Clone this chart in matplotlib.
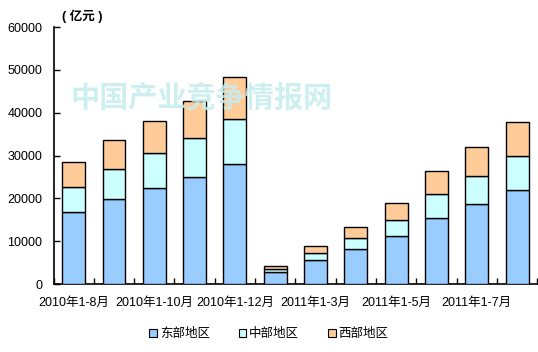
import matplotlib
matplotlib.use("Agg")
import matplotlib.pyplot as plt
import numpy as np

plt.rcParams['font.family'] = ['Liberation Sans', 'Noto Sans CJK SC', 'DejaVu Sans']

categories = ['2010年1-8月', '2010年1-9月', '2010年1-10月', '2010年1-11月', '2010年1-12月',
              '2011年1-2月', '2011年1-3月', '2011年1-4月', '2011年1-5月', '2011年1-6月',
              '2011年1-7月', '2011年1-8月']
east = [16740, 19780, 22340, 24910, 27950, 2800, 5530, 8100, 11130, 15340, 18610, 21880]
middle = [5840, 7000, 8170, 9110, 10500, 630, 1640, 2570, 3740, 5600, 6540, 7940]
west = [5820, 6770, 7480, 8640, 9810, 700, 1630, 2570, 3970, 5370, 6770, 7940]
series_names = ['东部地区', '中部地区', '西部地区']
colors = ['#99ccff', '#ccffff', '#ffcc99']

fig = plt.figure(figsize=(5.38, 3.52), dpi=100)
ax = fig.add_axes([0.0995, 0.193, 0.899, 0.730])

x = np.arange(len(categories))
bottom = np.zeros(len(categories))
for vals, name, c in zip([east, middle, west], series_names, colors):
    ax.bar(x, vals, width=0.57, bottom=bottom, color=c, edgecolor='black',
           linewidth=1.0, label=name, zorder=3)
    bottom += np.array(vals)

ax.set_xlim(-0.5, len(categories) - 0.5)
ax.set_ylim(0, 60000)
ax.set_yticks(np.arange(0, 60001, 10000))
ax.tick_params(axis='y', direction='in', length=4, width=1, labelsize=9, pad=8)

# labels under every other bar, tick marks between bars
ax.set_xticks(x[::2])
ax.set_xticklabels(categories[::2], fontsize=9)
ax.set_xticks(np.arange(-0.5, len(categories)), minor=True)
ax.tick_params(axis='x', which='major', length=0, pad=9)
ax.tick_params(axis='x', which='minor', direction='in', length=4, width=1)

for s in ['top', 'right']:
    ax.spines[s].set_visible(False)
for s in ['left', 'bottom']:
    ax.spines[s].set_linewidth(1.2)

fig.text(0.115, 0.955, '( 亿元 )', fontsize=9, ha='left', va='center', fontweight='bold')

# watermark
fig.text(0.375, 0.724, '中国产业竞争情报网', fontsize=21, color='#c6eded', alpha=0.85,
         ha='center', va='center', fontweight='bold', zorder=10,
         family=['Noto Sans CJK SC'])

fig.legend(loc='center', bbox_to_anchor=(0.5, 0.05), ncol=3, frameon=False,
           fontsize=9, handlelength=0.6, handleheight=0.6, handletextpad=0.25,
           columnspacing=2.3)
for p in fig.legends[0].get_patches():
    p.set_linewidth(0.8)

fig.savefig('out.png', dpi=100)
